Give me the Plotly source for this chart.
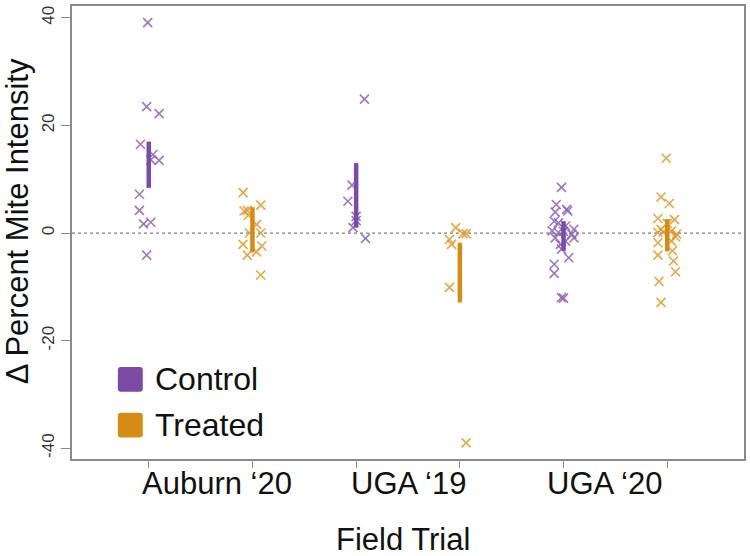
import plotly.graph_objects as go

# ---------------- data ----------------
group_labels = ["Auburn \u201820", "UGA \u201819", "UGA \u201820"]
group_label_pos = [1.66, 3.5, 5.39]          # x position of each group label (data units)
series_names = ["Control", "Treated"]

positions = [1, 2, 3, 4, 5, 6]               # Control/Treated slots per trial

auburn_ctrl_y = [39.1, 23.5, 22.2, 16.5, 14.6, 13.6, 13.5, 7.2, 4.2, 1.7, 2.0, -4.1]
auburn_ctrl_dx = [-0.01, -0.02, 0.10, -0.08, 0.04, 0.02, 0.10, -0.09, -0.09, -0.05, 0.02, -0.02]

auburn_trt_y = [7.5, 5.2, 4.2, 4.1, 3.3, 1.6, 0.0, 0.0, -2.1, -2.4, -4.1, -3.5, -7.8]
auburn_trt_dx = [-0.09, 0.08, -0.05, -0.08, -0.04, 0.04, -0.03, 0.08, -0.09, 0.09, -0.05, 0.04, 0.08]

uga19_ctrl_y = [24.9, 8.9, 5.9, 3.1, 2.3, 1.0, -1.0]
uga19_ctrl_dx = [0.08, -0.04, -0.08, 0.0, 0.0, -0.03, 0.09]

uga19_trt_y = [1.0, -1.2, -2.1, -0.1, -0.1, -10.1, -39.0]
uga19_trt_dx = [-0.04, -0.10, -0.08, 0.03, 0.06, -0.10, 0.06]

uga20_ctrl_y = [8.5, 5.3, 4.4, 4.1, 3.9, 2.2, 1.9, 1.3, 0.7, 0.4, 0.1, 0.3,
                -0.2, -0.9, -0.9, -1.5, -2.1, -3.0, -4.6, -5.8, -7.5, -12.1, -12.0]
uga20_ctrl_dx = [-0.02, -0.07, 0.03, 0.04, -0.08, -0.09, -0.05, 0.02, 0.10, -0.11, -0.05, 0.0,
                 0.08, -0.08, 0.10, 0.02, -0.03, -0.02, 0.05, -0.09, -0.09, 0.0, -0.02]

uga20_trt_y = [13.9, 6.7, 5.5, 2.7, 2.5, 1.8, 0.7, 0.1, 0.2, 0.4, -0.2, -0.7,
               -1.5, -1.8, -3.3, -4.1, -5.2, -7.2, -9.0, -12.9]
uga20_trt_dx = [-0.01, -0.06, 0.02, -0.09, 0.07, 0.0, -0.06, -0.09, -0.04, 0.04, 0.09, 0.08,
                0.04, -0.09, 0.05, -0.09, 0.06, 0.08, -0.08, -0.06]

bar_lo = [8.4, -3.6, 1.0, -12.9, -3.3, -3.4]
bar_hi = [17.0, 4.8, 13.0, -1.8, 2.2, 2.6]

y_ticks = [-40, -20, 0, 20, 40]

# ---------------- styling ----------------
FONT = "Liberation Sans, Arial, sans-serif"
col_main = {"Control": "#7b4ba6", "Treated": "#d68b16"}
col_pt = {"Control": "rgba(140,95,185,0.85)", "Treated": "rgba(222,150,40,0.85)"}

groups = [
    (auburn_ctrl_y, auburn_ctrl_dx, "Control"),
    (auburn_trt_y, auburn_trt_dx, "Treated"),
    (uga19_ctrl_y, uga19_ctrl_dx, "Control"),
    (uga19_trt_y, uga19_trt_dx, "Treated"),
    (uga20_ctrl_y, uga20_ctrl_dx, "Control"),
    (uga20_trt_y, uga20_trt_dx, "Treated"),
]

fig = go.Figure()

for pos, (ys, dxs, kind) in zip(positions, groups):
    fig.add_trace(go.Scatter(
        x=[pos + d for d in dxs], y=ys, mode="markers",
        marker=dict(symbol="x-thin-open", size=9,
                    line=dict(width=1.6, color=col_pt[kind]), color=col_pt[kind]),
        showlegend=False, hoverinfo="skip"))

for pos, lo, hi, (_, _, kind) in zip(positions, bar_lo, bar_hi, groups):
    fig.add_trace(go.Scatter(
        x=[pos, pos], y=[lo, hi], mode="lines",
        line=dict(color=col_main[kind], width=4.5),
        showlegend=False, hoverinfo="skip"))

# plot area in pixels: x 72..746, y 4..459
L, R, T, B = 72, 746, 4, 459
W, H = R - L, B - T


def px(xp):
    return (xp - L) / W


def py(yp):
    return (B - yp) / H


shapes = [
    dict(type="line", xref="paper", yref="y", x0=0, x1=1, y0=0, y1=0,
         line=dict(color="#808080", width=1.3, dash="dot"), layer="below"),
]

# legend
legend_rows = [(series_names[0], 379), (series_names[1], 425)]
annotations = []
for name, cy in legend_rows:
    x0, x1, y0, y1 = px(118), px(143), py(cy + 12.5), py(cy - 12.5)
    rx, ry = 3 / W, 3 / H
    path = (f"M {x0+rx},{y0} L {x1-rx},{y0} Q {x1},{y0} {x1},{y0+ry} "
            f"L {x1},{y1-ry} Q {x1},{y1} {x1-rx},{y1} L {x0+rx},{y1} "
            f"Q {x0},{y1} {x0},{y1-ry} L {x0},{y0+ry} Q {x0},{y0} {x0+rx},{y0} Z")
    shapes.append(dict(type="path", xref="paper", yref="paper", path=path,
                       fillcolor=col_main[name], line=dict(width=0)))
    annotations.append(dict(xref="paper", yref="paper", x=px(153), y=py(cy),
                            xanchor="left", yanchor="middle", showarrow=False,
                            text=name, font=dict(family=FONT, size=32, color="#111")))

# group labels on x axis
for lab, xpos in zip(group_labels, group_label_pos):
    annotations.append(dict(xref="x", yref="paper", x=xpos, y=py(484),
                            xanchor="center", yanchor="middle", showarrow=False,
                            text=lab, font=dict(family=FONT, size=31, color="#111")))

# axis titles
annotations.append(dict(xref="paper", yref="paper", x=px(404), y=py(540),
                        xanchor="center", yanchor="middle", showarrow=False,
                        text="Field Trial", font=dict(family=FONT, size=31, color="#111")))
annotations.append(dict(xref="paper", yref="paper", x=px(17), y=py(220),
                        xanchor="center", yanchor="middle", showarrow=False, textangle=-90,
                        text="\u0394 Percent Mite Intensity",
                        font=dict(family=FONT, size=31, color="#111")))

fig.update_layout(
    width=750, height=556,
    margin=dict(l=L, r=750 - R, t=T, b=556 - B),
    paper_bgcolor="white", plot_bgcolor="white",
    shapes=shapes, annotations=annotations,
    font=dict(family=FONT),
)
fig.update_xaxes(range=[0.26, 6.74], tickvals=positions, ticktext=[""] * 6,
                 ticks="outside", ticklen=7, tickcolor="#8a8a8a", tickwidth=1.3,
                 showline=True, linecolor="#8a8a8a", linewidth=1.5, mirror=True,
                 showgrid=False, zeroline=False)
fig.update_yaxes(range=[-42.0, 42.2], tickvals=y_ticks, ticktext=[str(v) for v in y_ticks],
                 tickangle=-90, tickfont=dict(family=FONT, size=17, color="#333"),
                 ticks="outside", ticklen=9, tickcolor="#8a8a8a", tickwidth=1.3,
                 showline=True, linecolor="#8a8a8a", linewidth=1.5, mirror=True,
                 showgrid=False, zeroline=False)

fig.write_html("out.html", config={"displayModeBar": False},
               post_script="document.body.style.margin='0';document.body.style.overflow='hidden';")
